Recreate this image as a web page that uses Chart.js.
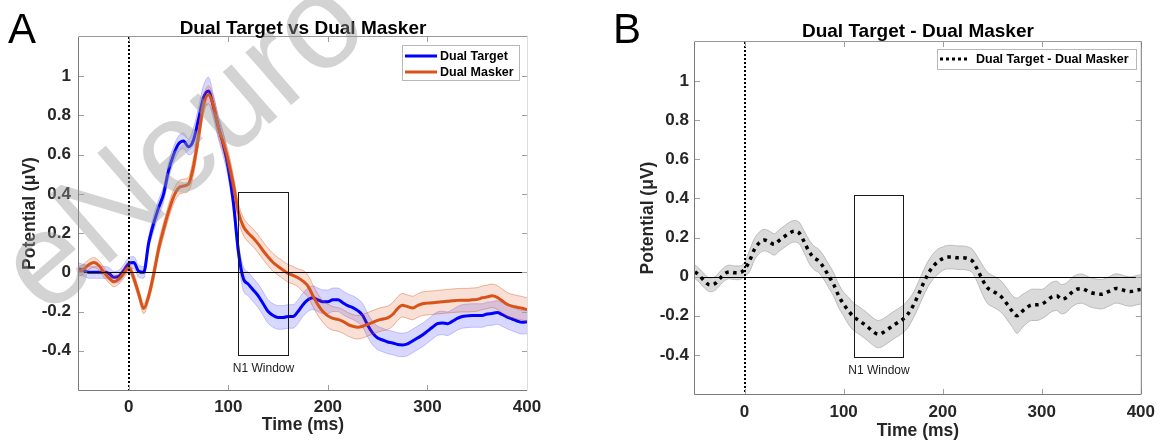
<!DOCTYPE html>
<html><head><meta charset="utf-8">
<script src="https://cdn.jsdelivr.net/npm/chart.js@4.4.1/dist/chart.umd.min.js"></script>
<style>
html,body{margin:0;padding:0;background:#fff;overflow:hidden;width:1163px;height:442px}
.p{position:absolute;top:0;height:442px}
#pa{left:0;width:580px}
#pb{left:580px;width:583px}
</style></head><body>
<div class="p" id="pa"><canvas id="ca"></canvas></div>
<div class="p" id="pb"><canvas id="cb"></canvas></div>
<script>
// ---------- data ----------
const time = [
 -50,-45,-40,-35,-30,-25,-20,-15,-10,-5,
 0,5,10,15,20,25,30,35,40,45,
 50,55,60,65,70,75,80,85,90,95,
 100,105,110,115,120,125,130,135,140,145,
 150,155,160,165,170,175,180,185,190,195,
 200,205,210,215,220,225,230,235,240,245,
 250,255,260,265,270,275,280,285,290,295,
 300,305,310,315,320,325,330,335,340,345,
 350,355,360,365,370,375,380,385,390,395,
 400];
const xTicks = [0,100,200,300,400];
const yTicks = [-0.4,-0.2,0,0.2,0.4,0.6,0.8,1];
const n1Window = [110,160];
const n1BoxA = [-0.42,0.41];
const n1BoxB = [-0.41,0.42];

const dualTarget = [
 0.017,0.01,0.0,0.0,0.0,0.0,-0.005,-0.025,-0.02,0.01,
 0.045,0.05,0.005,0.0,0.15,0.25,0.33,0.40,0.52,0.60,
 0.655,0.67,0.64,0.675,0.78,0.89,0.925,0.845,0.74,0.65,
 0.53,0.36,0.11,-0.03,-0.06,-0.09,-0.12,-0.16,-0.2,-0.22,
 -0.23,-0.23,-0.225,-0.225,-0.2,-0.165,-0.14,-0.13,-0.14,-0.15,
 -0.15,-0.14,-0.14,-0.155,-0.17,-0.18,-0.195,-0.22,-0.27,-0.31,
 -0.335,-0.345,-0.355,-0.36,-0.368,-0.37,-0.365,-0.35,-0.335,-0.32,
 -0.3,-0.28,-0.262,-0.258,-0.262,-0.25,-0.235,-0.225,-0.222,-0.22,
 -0.22,-0.22,-0.212,-0.21,-0.205,-0.215,-0.228,-0.238,-0.248,-0.255,
 -0.252];
const dualTargetSE = [
 0.03,0.03,0.03,0.03,0.03,0.03,0.03,0.03,0.03,0.03,
 0.03,0.03,0.03,0.03,0.03,0.04,0.04,0.04,0.04,0.04,
 0.04,0.04,0.04,0.06,0.06,0.06,0.07,0.06,0.06,0.06,
 0.05,0.05,0.05,0.06,0.06,0.06,0.06,0.06,0.06,0.06,
 0.06,0.06,0.06,0.06,0.06,0.06,0.06,0.06,0.06,0.06,
 0.06,0.06,0.06,0.06,0.06,0.06,0.06,0.06,0.06,0.06,
 0.06,0.06,0.06,0.06,0.06,0.06,0.06,0.06,0.06,0.06,
 0.06,0.06,0.06,0.06,0.06,0.06,0.06,0.06,0.06,0.06,
 0.06,0.06,0.06,0.06,0.06,0.06,0.06,0.06,0.06,0.06,
 0.06];
const dualMasker = [
 0.005,0.018,0.04,0.05,0.035,0.0,-0.028,-0.048,-0.035,-0.005,
 0.025,-0.03,-0.11,-0.185,-0.12,-0.01,0.12,0.22,0.31,0.385,
 0.43,0.44,0.45,0.54,0.69,0.85,0.905,0.85,0.74,0.66,
 0.57,0.45,0.31,0.235,0.2,0.175,0.145,0.11,0.078,0.05,
 0.03,0.012,-0.005,-0.015,-0.028,-0.045,-0.07,-0.12,-0.165,-0.2,
 -0.222,-0.235,-0.24,-0.25,-0.265,-0.275,-0.28,-0.275,-0.265,-0.255,
 -0.245,-0.238,-0.232,-0.215,-0.185,-0.168,-0.175,-0.182,-0.17,-0.16,
 -0.157,-0.155,-0.152,-0.15,-0.147,-0.145,-0.143,-0.142,-0.142,-0.14,
 -0.138,-0.13,-0.125,-0.12,-0.128,-0.145,-0.163,-0.172,-0.178,-0.183,
 -0.19];
const dualMaskerSE = [
 0.025,0.025,0.025,0.025,0.025,0.025,0.025,0.025,0.025,0.025,
 0.025,0.025,0.025,0.025,0.025,0.035,0.035,0.035,0.035,0.035,
 0.035,0.035,0.035,0.045,0.045,0.045,0.045,0.045,0.045,0.045,
 0.045,0.045,0.045,0.045,0.045,0.045,0.045,0.045,0.045,0.045,
 0.045,0.045,0.045,0.045,0.045,0.055,0.055,0.055,0.055,0.055,
 0.06,0.06,0.06,0.06,0.06,0.06,0.06,0.06,0.06,0.06,
 0.06,0.06,0.06,0.06,0.06,0.06,0.06,0.06,0.06,0.06,
 0.06,0.06,0.06,0.06,0.06,0.06,0.06,0.06,0.06,0.06,
 0.06,0.06,0.06,0.06,0.06,0.06,0.06,0.06,0.06,0.06,
 0.06];
const difference = [
 0.025,0.003,-0.025,-0.042,-0.036,-0.01,0.015,0.024,0.02,0.02,
 0.037,0.08,0.14,0.173,0.187,0.178,0.165,0.185,0.204,0.222,
 0.232,0.224,0.18,0.13,0.097,0.08,0.046,0.003,-0.04,-0.098,
 -0.14,-0.175,-0.205,-0.222,-0.24,-0.26,-0.282,-0.294,-0.285,-0.268,
 -0.25,-0.234,-0.217,-0.19,-0.15,-0.098,-0.04,0.012,0.05,0.076,
 0.092,0.1,0.1,0.097,0.097,0.093,0.08,0.037,-0.014,-0.056,
 -0.073,-0.087,-0.107,-0.14,-0.175,-0.2,-0.178,-0.158,-0.144,-0.144,
 -0.14,-0.124,-0.104,-0.098,-0.115,-0.107,-0.082,-0.065,-0.061,-0.07,
 -0.082,-0.087,-0.09,-0.082,-0.07,-0.06,-0.065,-0.073,-0.076,-0.07,
 -0.065];
const differenceSE = [
 0.035,0.035,0.035,0.035,0.035,0.035,0.035,0.035,0.035,0.035,
 0.035,0.055,0.055,0.055,0.055,0.055,0.055,0.055,0.055,0.055,
 0.055,0.055,0.055,0.06,0.06,0.06,0.06,0.06,0.06,0.06,
 0.06,0.07,0.07,0.07,0.07,0.07,0.07,0.07,0.07,0.07,
 0.07,0.07,0.07,0.07,0.065,0.065,0.065,0.065,0.065,0.065,
 0.06,0.06,0.06,0.06,0.06,0.06,0.06,0.065,0.075,0.08,
 0.08,0.08,0.08,0.08,0.08,0.09,0.085,0.08,0.08,0.08,
 0.075,0.075,0.075,0.075,0.075,0.075,0.075,0.075,0.075,0.075,
 0.075,0.075,0.075,0.075,0.075,0.075,0.075,0.075,0.075,0.075,
 0.075];

// ---------- helpers ----------
const FONT = '"Liberation Sans", Arial, Helvetica, sans-serif';
const pts = (arr) => arr.map((v,i)=>({x:time[i], y:v}));
const shifted = (arr, se, s) => arr.map((v,i)=>({x:time[i], y:v + s*se[i]}));
const lineDs = (data, color, w, order, extra) => Object.assign({data, borderColor:color, borderWidth:w, pointRadius:0, fill:false, order, cubicInterpolationMode:'monotone'}, extra||{});

function decorPlugin(c) {
  return {
    id: 'decor' + c.key,
    afterDatasetsDraw(chart) {
      const {ctx, chartArea:a, scales:{x, y}} = chart;
      ctx.save();
      // N1 window box
      const bx1 = Math.round(x.getPixelForValue(n1Window[0])) + 0.5;
      const bx2 = Math.round(x.getPixelForValue(n1Window[1])) + 0.5;
      const byT = Math.round(y.getPixelForValue(c.n1Box[1])) + 0.5;
      const byB = Math.round(y.getPixelForValue(c.n1Box[0])) + 0.5;
      ctx.strokeStyle = '#1a1a1a'; ctx.lineWidth = 1;
      ctx.strokeRect(bx1, byT, bx2 - bx1, byB - byT);
      ctx.font = '12px ' + FONT; ctx.fillStyle = '#222';
      ctx.textAlign = 'center'; ctx.textBaseline = 'middle';
      ctx.fillText('N1 Window', (bx1 + bx2) / 2, byB + 13);
      // zero line
      const y0 = Math.round(y.getPixelForValue(0)) + 0.5;
      ctx.strokeStyle = '#000'; ctx.lineWidth = 1;
      ctx.beginPath(); ctx.moveTo(a.left, y0); ctx.lineTo(a.right, y0); ctx.stroke();
      // stimulus onset (dotted)
      const x0 = Math.round(x.getPixelForValue(0));
      ctx.setLineDash([2, 2]); ctx.lineWidth = 2;
      ctx.beginPath(); ctx.moveTo(x0, a.top); ctx.lineTo(x0, a.bottom); ctx.stroke();
      ctx.restore();
    },
    afterDraw(chart) {
      const {ctx, chartArea:a, scales:{x, y}} = chart;
      ctx.save();
      // inner ticks
      ctx.strokeStyle = '#a0a0a0'; ctx.lineWidth = 1;
      yTicks.forEach(v => {
        const py = Math.round(y.getPixelForValue(v)) + 0.5;
        ctx.beginPath(); ctx.moveTo(a.left, py); ctx.lineTo(a.left + 5, py);
        ctx.moveTo(a.right - 5, py); ctx.lineTo(a.right, py); ctx.stroke();
      });
      xTicks.forEach(v => {
        const px = Math.round(x.getPixelForValue(v)) + 0.5;
        ctx.beginPath(); ctx.moveTo(px, a.bottom); ctx.lineTo(px, a.bottom - 5);
        ctx.moveTo(px, a.top); ctx.lineTo(px, a.top + 5); ctx.stroke();
      });
      // frame
      ctx.lineWidth = 1;
      ctx.strokeStyle = '#7a7a7a';
      ctx.beginPath(); ctx.moveTo(a.left - 0.5, a.top); ctx.lineTo(a.left - 0.5, a.bottom + 0.5); ctx.lineTo(a.right, a.bottom + 0.5); ctx.stroke();
      ctx.strokeStyle = '#999';
      ctx.beginPath(); ctx.moveTo(a.left - 0.5, a.top - 0.5); ctx.lineTo(a.right + 0.5, a.top - 0.5); ctx.stroke();
      ctx.strokeStyle = c.rightFrame;
      ctx.beginPath(); ctx.moveTo(a.right + 0.5, a.top - 0.5); ctx.lineTo(a.right + 0.5, a.bottom + 0.5); ctx.stroke();
      // title
      ctx.fillStyle = '#000'; ctx.font = 'bold 19px ' + FONT;
      ctx.textAlign = 'center'; ctx.textBaseline = 'alphabetic';
      ctx.fillText(c.title, (a.left + a.right) / 2, c.titleY);
      // panel letter
      ctx.font = '42px ' + FONT; ctx.textAlign = 'left';
      ctx.fillText(c.letter, c.letterX, 43);
      // legend
      const L = c.legend;
      ctx.fillStyle = '#fff'; ctx.fillRect(L.x, L.y, L.w, L.h);
      ctx.strokeStyle = '#b8b8b8'; ctx.lineWidth = 1;
      ctx.strokeRect(L.x + 0.5, L.y + 0.5, L.w, L.h);
      L.items.forEach(it => {
        ctx.strokeStyle = it.color; ctx.lineWidth = it.width;
        ctx.setLineDash(it.dash || []);
        ctx.beginPath(); ctx.moveTo(L.x + 3, it.y); ctx.lineTo(L.x + 3 + it.len, it.y); ctx.stroke();
        ctx.setLineDash([]);
        ctx.fillStyle = '#000'; ctx.font = 'bold 12.5px ' + FONT;
        ctx.textAlign = 'left'; ctx.textBaseline = 'middle';
        ctx.fillText(it.text, L.x + it.tx, it.y + 0.5);
      });
      // watermark
      if (c.watermark) {
        ctx.translate(46, 318);
        ctx.rotate(-41 * Math.PI / 180);
        ctx.font = '132px ' + FONT; ctx.textAlign = 'left'; ctx.textBaseline = 'alphabetic';
        ctx.fillStyle = 'rgba(150,150,150,0.42)';
        ctx.fillText(c.watermark, 0, 0);
      }
      ctx.restore();
    }
  };
}

function makeOptions(c) {
  const tickFont = {family: FONT, size: 17, weight: 'bold'};
  return {
    responsive: true, maintainAspectRatio: false, animation: false,
    layout: {padding: {left: 0, right: c.padRight, top: c.padTop, bottom: 0}},
    plugins: {legend: {display: false}, tooltip: {enabled: false}, title: {display: false}},
    elements: {point: {radius: 0}},
    scales: {
      x: {
        type: 'linear', min: -50, max: 400,
        afterBuildTicks: s => { s.ticks = xTicks.map(v => ({value: v})); },
        afterFit: s => { s.height = c.xAxisH; },
        grid: {display: false, drawTicks: false}, border: {display: false},
        ticks: {color: '#262626', font: tickFont, padding: c.xTickPad, maxRotation: 0, autoSkip: false,
                callback: v => String(v)},
        title: {display: true, text: 'Time (ms)', color: '#262626', font: {family: FONT, size: 17.5, weight: 'bold'},
                padding: {top: 0, bottom: c.xTitlePad}}
      },
      y: {
        type: 'linear', min: -0.6, max: 1.2,
        afterBuildTicks: s => { s.ticks = yTicks.map(v => ({value: v})); },
        afterFit: s => { s.width = c.yAxisW; },
        grid: {display: false, drawTicks: false}, border: {display: false},
        ticks: {color: '#262626', font: tickFont, padding: c.yTickPad, autoSkip: false,
                callback: v => String(Math.round(v * 10) / 10)},
        title: {display: true, text: 'Potential (μV)', color: '#262626', font: {family: FONT, size: 17.5, weight: 'bold'},
                padding: {top: c.yTitlePad, bottom: 0}}
      }
    }
  };
}

// ---------- panel A ----------
const cfgA = {key: 'A', padRight: 53, padTop: 37, xAxisH: 52, yAxisW: 79, xTickPad: 7, xTitlePad: 6, yTickPad: 8, yTitlePad: 20,
  n1Box: n1BoxA, rightFrame: '#dcdcdc', title: 'Dual Target vs Dual Masker', titleY: 33.5, letter: 'A', letterX: 8,
  watermark: 'eNeuro',
  legend: {x: 402, y: 45, w: 117, h: 35, items: [
    {color: '#0000ff', width: 3, len: 32, y: 56, text: 'Dual Target', tx: 38},
    {color: '#d95319', width: 3, len: 32, y: 72, text: 'Dual Masker', tx: 38}]}};
// order: higher value is drawn first (underneath)
new Chart(document.getElementById('ca'), {
  type: 'line',
  data: {datasets: [
    lineDs(shifted(dualTarget, dualTargetSE, 1), 'rgba(110,110,255,0.55)', 0.7, 6, {backgroundColor: 'rgba(40,40,255,0.18)', fill: '+1'}),
    lineDs(shifted(dualTarget, dualTargetSE, -1), 'rgba(110,110,255,0.55)', 0.7, 5),
    lineDs(pts(dualTarget), '#0000ff', 3, 4),
    lineDs(shifted(dualMasker, dualMaskerSE, 1), 'rgba(217,83,25,0.6)', 0.7, 3, {backgroundColor: 'rgba(217,83,25,0.18)', fill: '+1'}),
    lineDs(shifted(dualMasker, dualMaskerSE, -1), 'rgba(217,83,25,0.6)', 0.7, 2),
    lineDs(pts(dualMasker), '#d95319', 3, 1)
  ]},
  options: makeOptions(cfgA),
  plugins: [decorPlugin(cfgA)]
});

// ---------- panel B ----------
const cfgB = {key: 'B', padRight: 19, padTop: 42, xAxisH: 48, yAxisW: 115, xTickPad: 8, xTitlePad: 0, yTickPad: 6, yTitlePad: 58,
  n1Box: n1BoxB, rightFrame: '#7a7a7a', title: 'Dual Target - Dual Masker', titleY: 37, letter: 'B', letterX: 33,
  watermark: null,
  legend: {x: 357, y: 49, w: 199, h: 20, items: [
    {color: '#000', width: 3, len: 28, y: 59, dash: [3, 3], text: 'Dual Target - Dual Masker', tx: 39}]}};
new Chart(document.getElementById('cb'), {
  type: 'line',
  data: {datasets: [
    lineDs(shifted(difference, differenceSE, 1), '#a8a8a8', 0.7, 3, {backgroundColor: 'rgba(205,205,205,0.75)', fill: '+1'}),
    lineDs(shifted(difference, differenceSE, -1), '#a8a8a8', 0.7, 2),
    lineDs(pts(difference), '#000', 3.5, 1, {borderDash: [3.5, 4.5]})
  ]},
  options: makeOptions(cfgB),
  plugins: [decorPlugin(cfgB)]
});
</script></body></html>
